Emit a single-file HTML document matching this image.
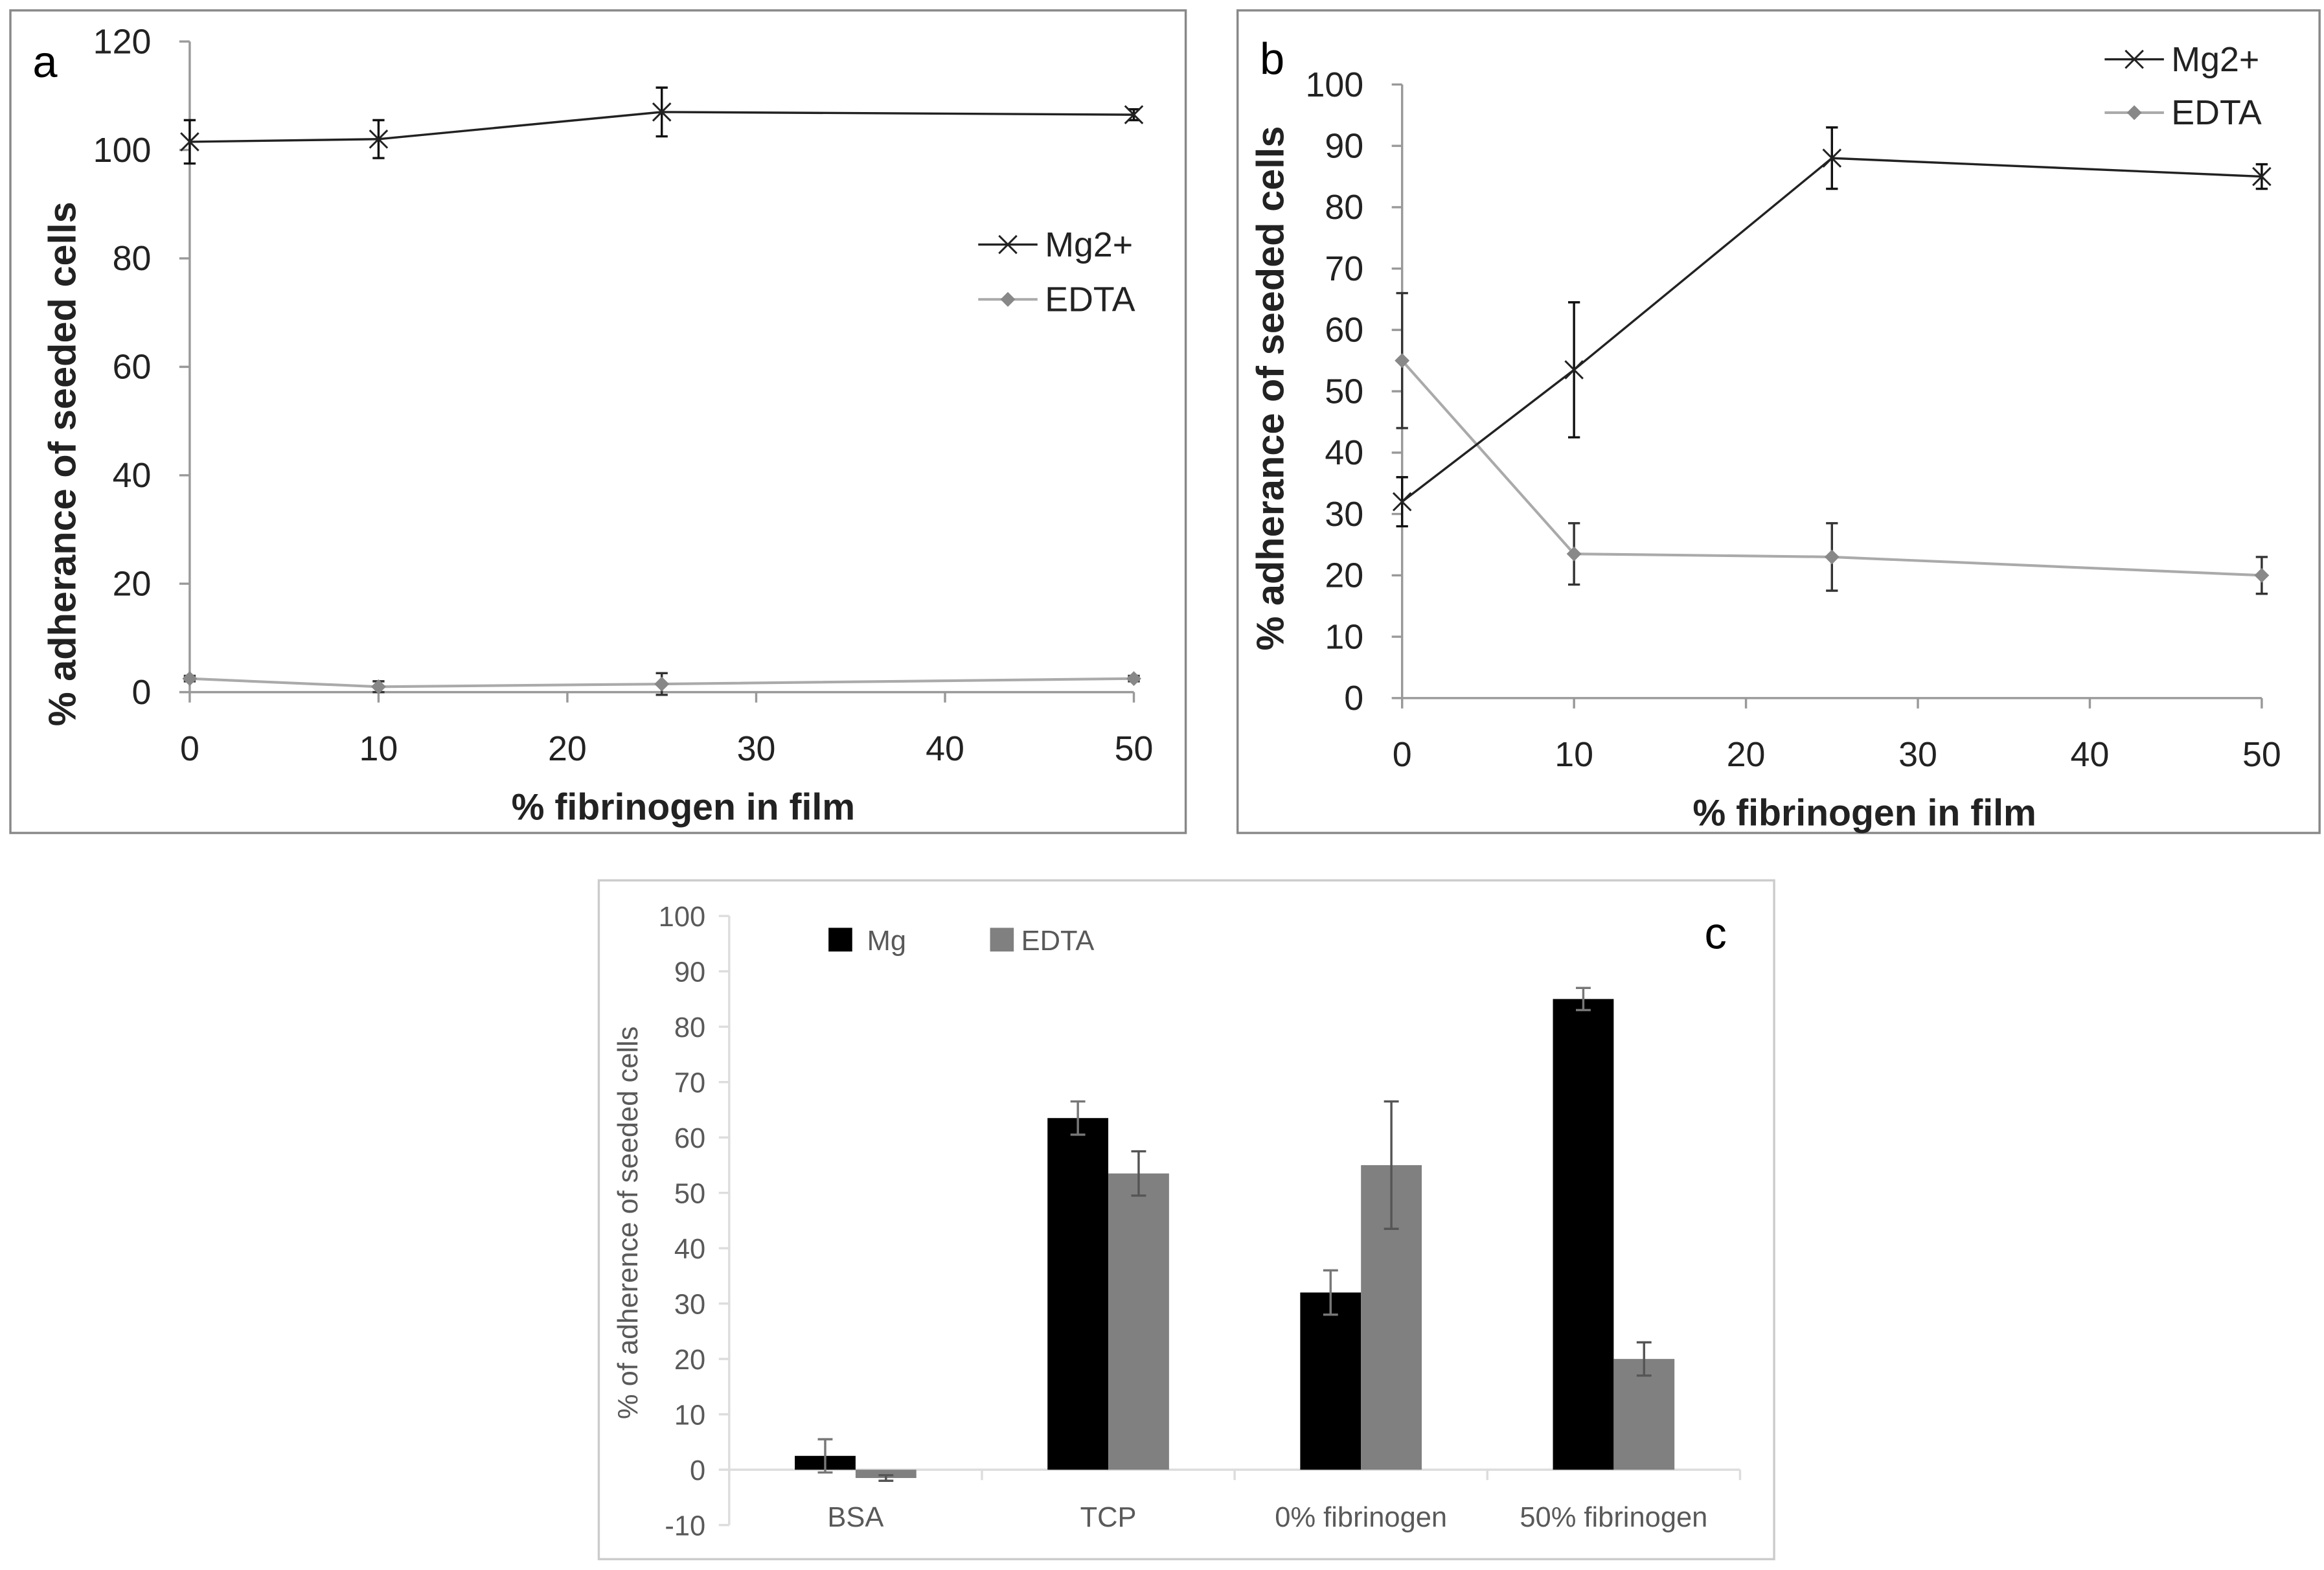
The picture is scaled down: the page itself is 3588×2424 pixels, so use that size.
<!DOCTYPE html>
<html><head><meta charset="utf-8"><style>
html,body{margin:0;padding:0;background:#fff}
svg{display:block}
text{font-family:"Liberation Sans",sans-serif}
</style></head><body>
<svg id="fig" width="3588" height="2424" viewBox="0 0 1568 1059.3" xmlns="http://www.w3.org/2000/svg">
<g id="pa"></g>
<g id="pb"></g>
<g id="pc"></g>
</svg>
<script>
// Panel a data
const aX = [0, 10, 25, 50];
const aMg = [101.5, 102, 107, 106.5];
const aMgErr = [4, 3.5, 4.5, 1];
const aEdta = [2.5, 1, 1.5, 2.5];
const aEdtaErr = [0.5, 1, 2, 0.5];
const aYTicks = [0, 20, 40, 60, 80, 100, 120];
const aXTicks = [0, 10, 20, 30, 40, 50];
// Panel b data
const bX = [0, 10, 25, 50];
const bMg = [32, 53.5, 88, 85];
const bMgErr = [4, 11, 5, 2];
const bEdta = [55, 23.5, 23, 20];
const bEdtaErr = [11, 5, 5.5, 3];
const bYTicks = [0, 10, 20, 30, 40, 50, 60, 70, 80, 90, 100];
const bXTicks = [0, 10, 20, 30, 40, 50];
// Panel c data
const cCats = ["BSA", "TCP", "0% fibrinogen", "50% fibrinogen"];
const cMg = [2.5, 63.5, 32, 85];
const cMgErr = [3, 3, 4, 2];
const cEdta = [-1.5, 53.5, 55, 20];
const cEdtaErr = [0.5, 4, 11.5, 3];
const cYTicks = [-10, 0, 10, 20, 30, 40, 50, 60, 70, 80, 90, 100];

const NS = "http://www.w3.org/2000/svg";
function mk(parent, tag, attrs, txt) {
  const e = document.createElementNS(NS, tag);
  for (const k in attrs) e.setAttribute(k, attrs[k]);
  if (txt !== undefined) e.textContent = txt;
  parent.appendChild(e);
  return e;
}
function cross(g, x, y, c) {
  const p = mk(g, "path", {d:`M${x-6},${y-6}L${x+6},${y+6}M${x-6},${y+6}L${x+6},${y-6}`, stroke:c, "stroke-width":1.3});
  
  
}
function diamond(g, x, y, c) {
  const p = mk(g, "path", {d:`M${x},${y-5}L${x+5},${y}L${x},${y+5}L${x-5},${y}Z`, fill:c});
  
  
}
function errbar(g, x, y1, y2, c, w) {
  const p = mk(g, "path", {d:`M${x},${y1}L${x},${y2}M${x-w},${y1}L${x+w},${y1}M${x-w},${y2}L${x+w},${y2}`, stroke:c, "stroke-width":1.5, fill:"none"});
  
  
}

function linePanel(g, o) {
  const fr = mk(g, "rect", {x:o.box[0], y:o.box[1], width:o.box[2], height:o.box[3], fill:"#fff", stroke:"#888", "stroke-width":1.5});
  
  
  const sx = v => o.x0 + (v - o.xmin) / (o.xmax - o.xmin) * (o.x1 - o.x0);
  const sy = v => o.y0 - (v - o.ymin) / (o.ymax - o.ymin) * (o.y0 - o.y1);
  const ax = mk(g, "path", {d:`M${o.x0},${o.y1}L${o.x0},${o.y0}L${o.x1},${o.y0}`, stroke:"#999", "stroke-width":1.5, fill:"none"});
  
  
  o.yt.forEach(v => {
    mk(g, "line", {x1:o.x0-7, x2:o.x0, y1:sy(v), y2:sy(v), stroke:"#999", "stroke-width":1.5});
    const t = mk(g, "text", {x:o.x0-26, y:sy(v)+8, "text-anchor":"end", "font-size":23.5, fill:"#222"}, v);
    
    
  });
  o.xt.forEach(v => {
    mk(g, "line", {x1:sx(v), x2:sx(v), y1:o.y0, y2:o.y0+7, stroke:"#999", "stroke-width":1.5});
    const t = mk(g, "text", {x:sx(v), y:o.y0+46, "text-anchor":"middle", "font-size":23.5, fill:"#222"}, v);
    
    
  });
  const xt = mk(g, "text", {x:o.xtx, y:o.y0+86, "text-anchor":"middle", "font-size":25, "font-weight":"bold", fill:"#222"}, "% fibrinogen in film");
  
  
  const yt = mk(g, "text", {x:0, y:0, transform:`translate(${o.ytx},${o.ytc}) rotate(-90)`, "text-anchor":"middle", "font-size":26, "font-weight":"bold", fill:"#222"}, "% adherance of seeded cells");
  
  
  const lab = mk(g, "text", {x:o.lab[0], y:o.lab[1], "font-size":30, fill:"#000"}, o.letter);
  
  
  const eg = mk(g, "g", {});
  
  
  mk(eg, "polyline", {points:o.xs.map((x,i)=>`${sx(x)},${sy(o.edta[i])}`).join(" "), fill:"none", stroke:"#aaa", "stroke-width":1.8});
  o.xs.forEach((x,i)=>{ errbar(eg, sx(x), sy(o.edta[i]+o.edtaErr[i]), sy(o.edta[i]-o.edtaErr[i]), "#333", 4); diamond(eg, sx(x), sy(o.edta[i]), "#888"); });
  const mg = mk(g, "g", {});
  
  
  mk(mg, "polyline", {points:o.xs.map((x,i)=>`${sx(x)},${sy(o.mg[i])}`).join(" "), fill:"none", stroke:"#222", "stroke-width":1.5});
  o.xs.forEach((x,i)=>{ errbar(mg, sx(x), sy(o.mg[i]+o.mgErr[i]), sy(o.mg[i]-o.mgErr[i]), "#111", 4); cross(mg, sx(x), sy(o.mg[i]), "#222"); });
  const lg = mk(g, "g", {});
  
  
  const [lx, ly1, ly2] = o.leg;
  mk(lg, "line", {x1:lx, x2:lx+40, y1:ly1, y2:ly1, stroke:"#222", "stroke-width":1.5});
  cross(lg, lx+20, ly1, "#222");
  const t1 = mk(lg, "text", {x:lx+45, y:ly1+8, "font-size":23.5, fill:"#222"}, "Mg2+");
  
  
  mk(lg, "line", {x1:lx, x2:lx+40, y1:ly2, y2:ly2, stroke:"#aaa", "stroke-width":1.8});
  diamond(lg, lx+20, ly2, "#888");
  const t2 = mk(lg, "text", {x:lx+45, y:ly2+8, "font-size":23.5, fill:"#222"}, "EDTA");
  
  
}

linePanel(document.getElementById("pa"), {box:[7,7,793,555], x0:128, x1:765, y0:467, y1:28, xmin:0, xmax:50, ymin:0, ymax:120,
  yt:aYTicks, xt:aXTicks, xs:aX, mg:aMg, mgErr:aMgErr, edta:aEdta, edtaErr:aEdtaErr, ytx:51, ytc:313, xtx:461, lab:[22,52], letter:"a", leg:[660,165,202]});
linePanel(document.getElementById("pb"), {box:[835,7,730,555], x0:946, x1:1526, y0:471, y1:57, xmin:0, xmax:50, ymin:0, ymax:100,
  yt:bYTicks, xt:bXTicks, xs:bX, mg:bMg, mgErr:bMgErr, edta:bEdta, edtaErr:bEdtaErr, ytx:866, ytc:262, xtx:1258, lab:[850,50], letter:"b", leg:[1420,40,76]});

// Panel c
(function(){
  const g = document.getElementById("pc");
  const fr = mk(g, "rect", {x:404, y:594, width:793, height:458, fill:"#fff", stroke:"#ccc", "stroke-width":1.5});
  
  
  const x0 = 492, x1 = 1174, ytop = 618, ybot = 1029, vmin = -10, vmax = 100;
  const sy = v => ybot - (v - vmin) / (vmax - vmin) * (ybot - ytop);
  const bw = (x1 - x0) / cCats.length;
  mk(g, "line", {x1:x0, x2:x0, y1:ytop, y2:ybot, stroke:"#ddd", "stroke-width":1.5});
  cYTicks.forEach(v => {
    mk(g, "line", {x1:x0-7, x2:x0, y1:sy(v), y2:sy(v), stroke:"#ddd", "stroke-width":1.5});
    const t = mk(g, "text", {x:x0-16, y:sy(v)+7, "text-anchor":"end", "font-size":19, fill:"#595959"}, v);
    
    
  });
  mk(g, "line", {x1:x0, x2:x1, y1:sy(0), y2:sy(0), stroke:"#ddd", "stroke-width":1.5});
  for (let i = 0; i <= cCats.length; i++) mk(g, "line", {x1:x0+i*bw, x2:x0+i*bw, y1:sy(0), y2:sy(0)+7, stroke:"#ddd", "stroke-width":1.5});
  const bar = 41;
  cCats.forEach((c, i) => {
    const cx = x0 + (i + 0.5) * bw;
    const r1 = mk(g, "rect", {x:cx-bar, y:Math.min(sy(cMg[i]), sy(0)), width:bar, height:Math.abs(sy(cMg[i])-sy(0)), fill:"#000"});
    
    
    const r2 = mk(g, "rect", {x:cx, y:Math.min(sy(cEdta[i]), sy(0)), width:bar, height:Math.abs(sy(cEdta[i])-sy(0)), fill:"#808080"});
    
    
    errbar(g, cx-bar/2, sy(cMg[i]+cMgErr[i]), sy(cMg[i]-cMgErr[i]), "#777", 5);
    errbar(g, cx+bar/2, sy(cEdta[i]+cEdtaErr[i]), sy(cEdta[i]-cEdtaErr[i]), "#555", 5);
    const t = mk(g, "text", {x:cx, y:1030, "text-anchor":"middle", "font-size":19, fill:"#595959"}, c);
    
    
  });
  const yt = mk(g, "text", {x:0, y:0, transform:`translate(430,825) rotate(-90)`, "text-anchor":"middle", "font-size":19, fill:"#595959"}, "% of adherence of seeded cells");
  
  
  const lg = mk(g, "g", {});
  
  
  mk(lg, "rect", {x:559, y:626, width:16, height:16, fill:"#000"});
  const l1 = mk(lg, "text", {x:585, y:641, "font-size":19, fill:"#595959"}, "Mg");
  
  
  mk(lg, "rect", {x:668, y:626, width:16, height:16, fill:"#808080"});
  const l2 = mk(lg, "text", {x:689, y:641, "font-size":19, fill:"#595959"}, "EDTA");
  
  
  const lab = mk(g, "text", {x:1150, y:640, "font-size":30, fill:"#000"}, "c");
  
  
})();
</script>
</body></html>
